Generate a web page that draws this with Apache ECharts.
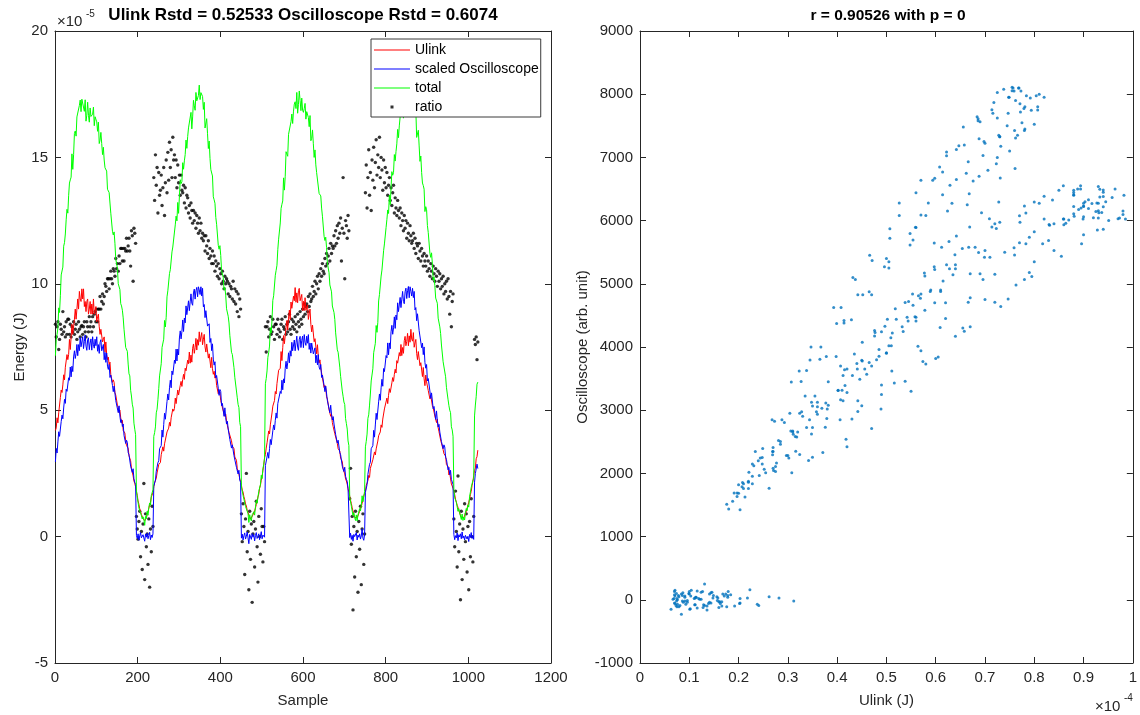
<!DOCTYPE html>
<html>
<head>
<meta charset="utf-8">
<title>Ulink vs Oscilloscope energy</title>
<script src="https://cdn.jsdelivr.net/npm/echarts@6/dist/echarts.min.js"></script>
<style>
  html, body { margin: 0; padding: 0; background: #ffffff; }
  #chart { width: 1140px; height: 715px; }
</style>
</head>
<body>
<div id="chart"></div>
<script>
// Every second sample of the 1024-sample record is kept.
const sampleStep = 2;

// Ulink pulse energy, in units of 1e-5 J.
const ulink = [
  4.2, 4.3, 4.7, 4.5, 4.9, 4.9, 5.5, 5.8, 5.7, 6.0, 6.4, 6.2, 6.7, 6.7, 7.2, 7.0,
  7.2, 7.8, 7.4, 7.9, 8.4, 8.0, 8.0, 8.6, 9.0, 8.6, 9.0, 9.4, 9.0, 9.7, 9.4, 9.3,
  9.8, 9.4, 9.8, 9.1, 9.3, 8.9, 9.3, 9.4, 8.8, 9.0, 9.3, 8.8, 9.2, 8.8, 9.4, 8.8,
  8.8, 9.1, 8.5, 8.7, 8.8, 8.3, 8.0, 8.2, 8.2, 7.7, 7.8, 7.9, 7.3, 7.7, 7.2, 7.0,
  7.1, 6.8, 6.9, 6.4, 6.4, 6.1, 6.2, 6.1, 5.7, 5.6, 5.6, 5.2, 5.1, 4.9, 5.0, 4.7,
  4.5, 4.6, 4.2, 4.2, 4.1, 3.8, 3.6, 3.6, 3.5, 3.2, 3.1, 3.0, 2.7, 2.7, 2.4, 2.2,
  2.1, 1.97, 1.78, 1.63, 1.41, 1.28, 1.1, 1.0, 0.88, 0.81, 0.71, 0.67, 0.63, 0.7, 0.74, 0.87,
  0.93, 1.12, 1.16, 1.36, 1.56, 1.62, 1.74, 1.97, 2.13, 2.1, 2.31, 2.52, 2.49, 2.85, 2.88, 2.93,
  3.24, 3.27, 3.55, 3.38, 3.67, 3.65, 3.98, 4.14, 4.08, 4.29, 4.52, 4.37, 4.7, 4.71, 5.05, 4.96,
  5.07, 5.48, 5.26, 5.54, 5.8, 5.6, 5.6, 5.98, 6.14, 5.94, 6.22, 6.42, 6.22, 6.66, 6.56, 6.58,
  6.98, 6.84, 7.3, 6.86, 7.18, 6.9, 7.45, 7.62, 7.25, 7.47, 7.84, 7.38, 7.79, 7.57, 8.1, 7.71,
  7.68, 8.07, 7.59, 7.81, 8.0, 7.5, 7.3, 7.62, 7.61, 7.06, 7.23, 7.28, 6.68, 7.09, 6.64, 6.42,
  6.54, 6.27, 6.35, 5.98, 5.97, 5.65, 5.78, 5.69, 5.38, 5.34, 5.32, 4.97, 5.0, 4.76, 4.85, 4.56,
  4.4, 4.46, 4.12, 4.12, 4.07, 3.79, 3.58, 3.6, 3.48, 3.15, 3.11, 3.02, 2.69, 2.75, 2.48, 2.28,
  2.2, 2.03, 1.84, 1.76, 1.58, 1.46, 1.29, 1.21, 1.04, 0.96, 0.84, 0.78, 0.69, 0.73, 0.74, 0.86,
  0.91, 1.02, 1.13, 1.27, 1.39, 1.57, 1.68, 1.92, 2.03, 2.23, 2.38, 2.62, 2.82, 3.12, 3.24, 3.5,
  3.71, 3.76, 4.18, 4.06, 4.42, 4.42, 4.89, 5.16, 5.11, 5.38, 5.74, 5.64, 6.05, 6.09, 6.58, 6.55,
  6.66, 7.32, 6.96, 7.47, 7.95, 7.63, 7.6, 8.29, 8.55, 8.17, 8.64, 8.96, 8.59, 9.28, 9.03, 8.99,
  9.51, 9.33, 9.85, 9.27, 9.64, 9.25, 9.73, 9.82, 9.33, 9.37, 9.58, 8.94, 9.31, 8.94, 9.45, 8.95,
  8.88, 9.17, 8.59, 8.81, 9.0, 8.4, 8.1, 8.37, 8.31, 7.71, 7.83, 7.83, 7.23, 7.59, 7.14, 6.87,
  6.99, 6.67, 6.7, 6.28, 6.22, 5.9, 5.98, 5.89, 5.53, 5.44, 5.42, 5.02, 5.05, 4.76, 4.85, 4.51,
  4.35, 4.41, 4.07, 4.02, 4.02, 3.69, 3.48, 3.5, 3.38, 3.1, 3.06, 2.97, 2.69, 2.75, 2.48, 2.28,
  2.2, 2.07, 1.88, 1.76, 1.6, 1.44, 1.31, 1.14, 1.01, 0.86, 0.76, 0.71, 0.7, 0.75, 0.79, 0.91,
  1.0, 1.11, 1.19, 1.31, 1.44, 1.6, 1.71, 1.8, 2.03, 2.0, 2.21, 2.42, 2.34, 2.7, 2.68, 2.73,
  3.04, 3.07, 3.35, 3.23, 3.47, 3.45, 3.78, 3.99, 3.93, 4.14, 4.42, 4.32, 4.65, 4.66, 5.05, 5.0,
  5.07, 5.48, 5.26, 5.59, 5.85, 5.7, 5.7, 6.08, 6.29, 6.14, 6.42, 6.62, 6.47, 6.96, 6.86, 6.88,
  7.28, 7.14, 7.6, 7.16, 7.48, 7.25, 7.75, 7.92, 7.55, 7.72, 8.04, 7.55, 7.94, 7.69, 8.2, 7.81,
  7.73, 8.07, 7.49, 7.66, 7.8, 7.25, 7.0, 7.32, 7.31, 6.76, 6.88, 6.93, 6.33, 6.69, 6.24, 5.97,
  6.39, 6.12, 6.15, 5.78, 5.77, 5.45, 5.58, 5.54, 5.18, 5.09, 5.12, 4.77, 4.8, 4.51, 4.65, 4.31,
  4.15, 4.16, 3.82, 3.82, 3.77, 3.44, 3.28, 3.3, 3.18, 2.85, 2.81, 2.77, 2.44, 2.55, 2.28, 2.08,
  2.0, 1.91, 1.78, 1.66, 1.48, 1.41, 1.24, 1.16, 1.03, 0.96, 0.84, 0.76, 0.71, 0.7, 0.75, 0.79,
  0.91, 0.99, 1.12, 1.24, 1.36, 1.49, 1.66, 1.79, 2.02, 2.18, 2.41, 2.62, 2.71, 3.08, 3.16, 3.42
];

// Oscilloscope reading, arbitrary units.
const oscilloscope = [
  2420, 2860, 2710, 3070, 3400, 3250, 3300, 3730, 3940, 3820, 4170, 4450, 4320, 4780, 4710, 4750,
  5150, 5070, 5500, 5180, 5525, 5350, 5825, 6025, 5775, 5935, 6230, 5865, 6225, 6030, 6450, 6155,
  6150, 6485, 6095, 6330, 6540, 6175, 6040, 6380, 6445, 6060, 6275, 6410, 6045, 6480, 6220, 6110,
  6400, 6190, 6480, 6010, 6225, 5940, 6295, 6385, 6025, 6075, 6230, 5735, 5975, 5650, 5950, 5525,
  5420, 5580, 5160, 5240, 5300, 4900, 4700, 4880, 4840, 4410, 4470, 4440, 4020, 4240, 3910, 3700,
  3790, 3570, 3650, 3280, 3315, 3020, 3125, 3055, 2725, 2655, 2670, 2285, 2345, 2080, 2200, 1875,
  1760, 1690, 40, -60, 90, -120, 20, 130, -40, -90, 60, 10, -150, 80, -20, 110,
  -70, 30, 140, -100, 50, -30, 90, 1635, 1625, 1835, 2120, 2065, 2395, 2460, 2850, 2805,
  2950, 3455, 3225, 3630, 4000, 3805, 3850, 4380, 4625, 4430, 4825, 5070, 4825, 5370, 5250, 5270,
  5720, 5615, 6080, 5695, 6080, 5890, 6440, 6670, 6410, 6640, 7025, 6650, 7085, 6930, 7480, 7195,
  7250, 7645, 7325, 7610, 7870, 7565, 7500, 7900, 8025, 7700, 7975, 8080, 7775, 8100, 8000, 7850,
  8100, 7800, 8050, 7450, 7525, 7100, 7325, 7305, 6825, 6795, 6900, 6295, 6425, 6030, 6250, 5755,
  5560, 5670, 5145, 5225, 5270, 4810, 4580, 4770, 4705, 4245, 4320, 4330, 3900, 4175, 3855, 3650,
  3740, 3490, 3550, 3150, 3165, 2870, 2975, 2935, 2625, 2585, 2620, 2245, 2295, 2030, 2150, 1835,
  1760, -50, 80, -110, 30, 120, -80, 10, 150, -40, -230, 70, 20, -90, 100, -20,
  60, -140, 40, 130, -60, -10, 90, -100, 20, 160, -70, 50, 30, -20, 2300, 2255,
  2330, 2730, 2540, 2850, 3150, 2980, 3020, 3430, 3620, 3460, 3770, 4010, 3840, 4310, 4250, 4300,
  4710, 4640, 5070, 4760, 5115, 4980, 5455, 5685, 5435, 5635, 5960, 5635, 6025, 5850, 6300, 6025,
  6000, 6375, 6025, 6280, 6500, 6145, 6040, 6400, 6495, 6130, 6365, 6500, 6125, 6550, 6300, 6200,
  6500, 6270, 6550, 6070, 6275, 5950, 6275, 6325, 5925, 5975, 6120, 5635, 5875, 5570, 5900, 5495,
  5420, 5580, 5160, 5240, 5300, 4900, 4700, 4880, 4840, 4410, 4470, 4440, 4020, 4260, 3960, 3780,
  3890, 3650, 3700, 3310, 3315, 3030, 3125, 3065, 2725, 2655, 2670, 2285, 2345, 2110, 2250, 1955,
  1860, 1790, 1560, 1510, -30, 110, -90, 40, -150, 70, 0, -60, 130, -110, 50, -20,
  90, -80, 20, 250, -50, -120, 60, 1435, 1425, 1685, 2020, 1965, 2345, 2410, 2850, 2825,
  2950, 3445, 3225, 3620, 4000, 3795, 3850, 4370, 4625, 4420, 4825, 5100, 4875, 5450, 5350, 5400,
  5870, 5795, 6280, 5895, 6280, 6090, 6640, 6850, 6560, 6770, 7125, 6750, 7185, 7030, 7580, 7295,
  7350, 7755, 7425, 7700, 7950, 7625, 7550, 7940, 8055, 7720, 7975, 8110, 7745, 8100, 7950, 7800,
  8050, 7750, 7950, 7350, 7425, 7000, 7225, 7175, 6675, 6625, 6700, 6125, 6275, 5900, 6150, 5645,
  5460, 5580, 5045, 5125, 5170, 4720, 4480, 4660, 4605, 4145, 4220, 4230, 3800, 4075, 3755, 3550,
  3640, 3390, 3450, 3080, 3115, 2850, 2975, 2905, 2575, 2505, 2520, 2165, 2245, 2010, 2150, 1855,
  1820, 1690, 70, -100, 30, -40, 120, -130, 60, -10, 90, -70, 150, -50, 20, -110,
  40, 100, -80, 10, -160, 70, -30, 130, -60, 30, -90, 1765, 2045, 2010, 2350, 2205
];

// Oscilloscope / Ulink ratio, as plotted on the energy axis.
const ratio = [
  8.4, 7.9, 8.3, 8.5, 7.4, 7.8, 8.4, 8.2, 8.0, 8.9, 8.1, 8.3, 7.9, 8.5, 8.0, 8.6,
  8.6, 8.0, 8.4, 7.9, 8.3, 8.1, 8.5, 8.0, 8.2, 8.4, 7.8, 8.1, 8.5, 8.2, 7.9, 8.3,
  8.35, 8.0, 8.3, 8.5, 8.1, 7.9, 8.5, 8.3, 8.1, 8.7, 8.3, 8.5, 8.1, 8.7, 8.3, 8.8,
  8.9, 8.5, 9.0, 8.5, 9.0, 9.0, 9.5, 9.0, 9.3, 9.6, 9.2, 9.5, 10.0, 9.9, 9.7, 10.2,
  10.2, 9.8, 10.2, 10.5, 10.2, 10.0, 10.6, 10.5, 10.3, 11.0, 10.6, 10.8, 10.5, 11.1, 10.8, 11.4,
  11.4, 10.9, 11.4, 10.9, 11.4, 11.3, 11.8, 11.3, 11.5, 11.8, 11.3, 10.7, 12.1, 11.9, 10.1, 12.2,
  12.0, 11.6, 0.8, 0.3, -0.1, 0.6, 1.0, -0.8, 0.2, -1.3, 0.5, 2.1, -1.7, 0.9, -0.4, 0.1,
  -1.1, 0.7, -2.0, 0.3, -0.6, 1.2, 0.4, 14.2, 13.3, 15.1, 13.9, 14.6, 12.8, 14.4, 13.5, 13.7,
  14.3, 13.1, 13.8, 14.6, 12.7, 14.0, 14.9, 13.6, 15.2, 14.1, 15.6, 14.6, 15.3, 14.2, 15.8, 14.9,
  15.1, 14.2, 14.9, 13.8, 14.7, 14.0, 14.3, 13.5, 14.3, 13.7, 13.6, 13.9, 13.2, 13.8, 13.0, 13.5,
  13.4, 12.8, 13.1, 12.6, 13.2, 12.9, 12.4, 12.9, 12.5, 12.8, 12.2, 12.7, 12.4, 12.0, 12.6, 12.1,
  12.4, 11.8, 12.0, 11.7, 11.9, 11.3, 11.9, 11.5, 11.2, 11.7, 11.0, 11.4, 11.1, 10.8, 11.3, 10.8,
  11.1, 10.5, 10.9, 10.7, 10.3, 10.8, 10.2, 10.6, 10.4, 10.0, 10.5, 10.1, 9.8, 10.3, 10.0, 10.2,
  10.1, 9.6, 10.0, 9.5, 9.9, 9.8, 9.4, 10.1, 9.3, 9.8, 9.2, 9.7, 8.9, 9.6, 8.7, 9.4,
  9.0, 0.9, -0.2, 1.3, 0.4, -1.5, 0.7, 2.5, -0.6, 0.2, -2.1, 1.0, -0.9, 0.5, -2.6, 0.1,
  0.6, -1.2, 0.3, 1.4, -0.4, -1.8, 0.8, 0.0, -0.7, 1.1, 0.4, -1.0, 0.4, -0.2, 8.3, 7.3,
  8.3, 8.5, 7.9, 8.2, 8.7, 8.0, 8.1, 8.6, 8.3, 7.8, 8.4, 8.4, 8.0, 8.6, 8.2, 7.9,
  8.1, 8.4, 8.6, 7.8, 8.3, 8.2, 8.7, 8.0, 8.4, 8.1, 8.5, 8.8, 8.2, 8.0, 8.6, 8.3,
  8.5, 8.2, 8.7, 8.4, 8.1, 8.8, 8.5, 8.3, 8.9, 8.6, 8.4, 9.0, 8.7, 9.2, 8.8, 9.1,
  9.2, 8.9, 9.5, 9.1, 9.6, 9.3, 9.4, 9.9, 9.5, 9.7, 10.1, 9.6, 10.0, 10.3, 9.8, 10.4,
  10.1, 10.6, 10.3, 10.8, 10.5, 10.4, 11.0, 10.7, 11.2, 10.8, 11.1, 11.4, 10.9, 11.6, 11.2, 11.5,
  11.4, 11.9, 11.5, 12.1, 11.6, 12.3, 11.8, 12.4, 12.0, 12.6, 10.9, 12.2, 14.2, 12.0, 10.2, 12.5,
  12.3, 11.8, 12.7, 12.1, 1.5, 2.7, -0.3, 0.8, -2.9, 0.4, -1.6, 1.0, -0.8, 0.2, -2.2, 0.6,
  -0.5, 1.2, -1.9, 0.3, 0.9, -1.1, 0.1, 13.6, 14.7, 13.0, 14.2, 15.3, 13.5, 14.4, 12.9, 14.9,
  14.1, 15.4, 13.8, 14.8, 15.7, 14.3, 15.1, 14.6, 15.8, 14.2, 15.0, 14.5, 13.7, 14.9, 14.0, 14.6,
  13.8, 14.4, 13.5, 13.9, 14.2, 13.3, 13.8, 13.1, 13.6, 13.9, 12.8, 13.4, 13.0, 12.7, 13.3, 12.9,
  12.6, 13.0, 12.3, 12.8, 12.5, 12.1, 12.7, 12.2, 12.5, 11.8, 12.4, 12.0, 11.7, 12.3, 11.9, 11.6,
  11.7, 12.0, 11.4, 11.8, 11.2, 11.6, 11.5, 11.0, 11.6, 11.3, 10.9, 11.4, 11.1, 10.7, 11.2, 10.9,
  10.7, 11.1, 10.5, 10.9, 10.6, 10.3, 10.8, 10.5, 10.2, 10.7, 10.4, 10.1, 10.6, 10.3, 9.9, 10.5,
  10.1, 10.4, 9.8, 10.2, 9.9, 10.3, 9.6, 10.0, 9.7, 10.1, 9.4, 10.2, 9.5, 8.8, 9.7, 8.3,
  9.3, 9.6, 0.7, -0.4, 1.8, 0.2, -1.2, 2.4, -0.6, 0.5, -2.5, 1.0, -1.7, 0.3, -0.9, 1.3,
  -0.2, 0.9, -1.4, 0.4, -2.1, 0.6, -0.8, 1.5, 0.0, -1.0, 0.8, 7.8, 7.6, 7.9, 7.0, 7.7
];

// Oscilloscope arb. unit -> energy in units of 1e-5 J.
const scopeScale = 1.22e-3;

// Axis ranges: [min, max, interval].
const sampleAxis = [0, 1200, 200];
const energyAxis = [-5, 20, 5];
const ulinkAxis = [0, 1, 0.1];       // units of 1e-4 J
const scopeAxis = [-1000, 9000, 1000];

const titles = [
  'Ulink Rstd = 0.52533 Oscilloscope Rstd = 0.6074',
  'r = 0.90526 with p = 0'
];
const legendNames = ['Ulink', 'scaled Oscilloscope', 'total', 'ratio'];

// ---- tables for the library ----
const sample = ulink.map((_, i) => 1 + i * sampleStep);
const ulinkLine = ulink.map((v, i) => [sample[i], v]);
const scopeLine = oscilloscope.map((v, i) => [sample[i], v * scopeScale]);
const totalLine = ulink.map((v, i) => [sample[i], v + oscilloscope[i] * scopeScale]);
const ratioDots = ratio.map((v, i) => [sample[i], v]);
const pairs = ulink.map((v, i) => [v / 10, oscilloscope[i]]);

const FONT = '"Liberation Sans", Arial, Helvetica, sans-serif';
const INK = '#262626';
const plainNumber = v => String(+v.toFixed(1));

function axis(gridIndex, position, range, labelled, extra) {
  return Object.assign({
    type: 'value',
    gridIndex: gridIndex,
    position: position,
    min: range[0], max: range[1], interval: range[2],
    axisLine: { show: true, onZero: false, lineStyle: { color: INK, width: 1 } },
    axisTick: { show: true, inside: true, length: 6, lineStyle: { color: INK, width: 1 } },
    axisLabel: { show: labelled, color: INK, fontSize: 15, fontFamily: FONT, margin: 7,
      formatter: plainNumber },
    splitLine: { show: false },
    nameLocation: 'middle',
    nameTextStyle: { color: INK, fontSize: 15, fontFamily: FONT }
  }, extra || {});
}

// Thin bar centred in a 36x14 legend cell, and a small dot for the ratio markers.
const lineIcon = 'path://M0,0 M36,14 M0,6.5 h36 v1.1 h-36 z';
const dotIcon = 'path://M0,0 M36,14 M16.5,5.5 h3 v3 h-3 z';

const chart = echarts.init(document.getElementById('chart'), null, { renderer: 'canvas' });

chart.setOption({
  animation: false,
  backgroundColor: '#ffffff',
  title: [
    { text: titles[0], left: 303, top: 7, textAlign: 'center', padding: 0,
      textStyle: { fontSize: 17, fontWeight: 'bold', color: '#000', fontFamily: FONT } },
    { text: titles[1], left: 888, top: 8, textAlign: 'center', padding: 0,
      textStyle: { fontSize: 15.5, fontWeight: 'bold', color: '#000', fontFamily: FONT } }
  ],
  grid: [
    { left: 55, top: 31, width: 496, height: 632 },
    { left: 640, top: 31, width: 496, height: 632 }
  ],
  xAxis: [
    axis(0, 'bottom', sampleAxis, true, { name: 'Sample', nameGap: 30 }),
    axis(0, 'top', sampleAxis, false),
    axis(1, 'bottom', ulinkAxis, true, { name: 'Ulink (J)', nameGap: 30 }),
    axis(1, 'top', ulinkAxis, false)
  ],
  yAxis: [
    axis(0, 'left', energyAxis, true, { name: 'Energy (J)', nameGap: 27 }),
    axis(0, 'right', energyAxis, false),
    axis(1, 'left', scopeAxis, true, { name: 'Oscilloscope (arb. unit)', nameGap: 50 }),
    axis(1, 'right', scopeAxis, false)
  ],
  legend: {
    left: 371, top: 39,
    orient: 'vertical',
    itemWidth: 36, itemHeight: 14, itemGap: 5,
    padding: [4, 2, 3, 3],
    backgroundColor: '#ffffff',
    borderColor: '#3a3a3a', borderWidth: 1,
    itemStyle: { borderWidth: 0 },
    textStyle: { fontSize: 14, color: '#000', fontFamily: FONT },
    data: [
      { name: legendNames[0], icon: lineIcon },
      { name: legendNames[1], icon: lineIcon },
      { name: legendNames[2], icon: lineIcon },
      { name: legendNames[3], icon: dotIcon }
    ]
  },
  graphic: [
    { type: 'text', left: 57, top: 14, style: { text: '×10', font: '15px ' + FONT, fill: INK } },
    { type: 'text', left: 86, top: 9, style: { text: '-5', font: '10px ' + FONT, fill: INK } },
    { type: 'text', left: 1095, top: 699, style: { text: '×10', font: '15px ' + FONT, fill: INK } },
    { type: 'text', left: 1124, top: 693, style: { text: '-4', font: '10px ' + FONT, fill: INK } }
  ],
  series: [
    { name: legendNames[0], type: 'line', xAxisIndex: 0, yAxisIndex: 0, data: ulinkLine,
      symbol: 'none', lineStyle: { color: '#ff0000', width: 1 }, itemStyle: { color: '#ff0000' } },
    { name: legendNames[1], type: 'line', xAxisIndex: 0, yAxisIndex: 0, data: scopeLine,
      symbol: 'none', lineStyle: { color: '#0000ff', width: 1 }, itemStyle: { color: '#0000ff' } },
    { name: legendNames[2], type: 'line', xAxisIndex: 0, yAxisIndex: 0, data: totalLine,
      symbol: 'none', lineStyle: { color: '#00ff00', width: 1 }, itemStyle: { color: '#00ff00' } },
    { name: legendNames[3], type: 'scatter', xAxisIndex: 0, yAxisIndex: 0, data: ratioDots,
      symbol: 'circle', symbolSize: 3.4, itemStyle: { color: '#000000' } },
    { name: 'Oscilloscope vs Ulink', type: 'scatter', xAxisIndex: 2, yAxisIndex: 2, data: pairs,
      symbol: 'circle', symbolSize: 3, itemStyle: { color: '#0072bd' } }
  ]
});
</script>
</body>
</html>
